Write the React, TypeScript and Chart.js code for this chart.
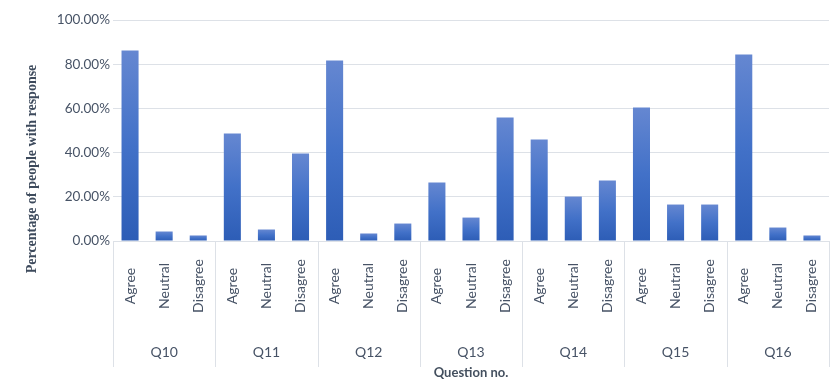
import React, { useEffect, useRef } from "react";
import { Chart, registerables } from "chart.js";

Chart.register(...registerables);

const questions = ["Q10", "Q11", "Q12", "Q13", "Q14", "Q15", "Q16"];
const responses = ["Agree", "Neutral", "Disagree"];
const agree = [86.2, 48.6, 81.7, 26.5, 45.9, 60.4, 84.4];
const neutral = [4.3, 5.2, 3.4, 10.6, 20.1, 16.5, 6.1];
const disagree = [2.5, 39.6, 7.9, 55.9, 27.4, 16.5, 2.5];
const yTicks = [0, 20, 40, 60, 80, 100];

const TEXT = "#475366";
const LINE = "#dde1e7";

export default function App() {
  const ref = useRef<HTMLCanvasElement | null>(null);

  useEffect(() => {
    document.body.style.margin = "0";
    const canvas = ref.current;
    if (!canvas) return;

    const labels: string[] = [];
    const values: number[] = [];
    questions.forEach((q, i) => {
      const set = [agree[i], neutral[i], disagree[i]];
      responses.forEach((r, j) => {
        labels.push(r);
        values.push(set[j]);
      });
    });

    const groupPlugin = {
      id: "groupLabels",
      afterDraw(chart: any) {
        const ctx = chart.ctx;
        const xs = chart.scales.x;
        const top = chart.chartArea.bottom;
        ctx.save();
        // separators
        ctx.strokeStyle = LINE;
        ctx.lineWidth = 1;
        const bounds: number[] = [xs.left];
        for (let g = 1; g < questions.length; g++) {
          const a = xs.getPixelForValue(g * 3 - 1);
          const b = xs.getPixelForValue(g * 3);
          bounds.push((a + b) / 2);
        }
        bounds.push(xs.right);
        bounds.forEach((bx) => {
          const px = Math.round(bx) + 0.5;
          ctx.beginPath();
          ctx.moveTo(px, top);
          ctx.lineTo(px, 367);
          ctx.stroke();
        });
        // rotated response labels
        ctx.fillStyle = TEXT;
        ctx.font = "14px Lato";
        ctx.textAlign = "center";
        ctx.textBaseline = "middle";
        labels.forEach((lab, i) => {
          const x = xs.getPixelForValue(i);
          ctx.save();
          ctx.translate(x, 286);
          ctx.rotate(-Math.PI / 2);
          ctx.fillText(lab, 0, 0);
          ctx.restore();
        });
        // group labels
        questions.forEach((q, g) => {
          const x = xs.getPixelForValue(g * 3 + 1);
          ctx.fillText(q, x, 352);
        });
        // y-axis title
        ctx.save();
        ctx.translate(32, 169);
        ctx.rotate(-Math.PI / 2);
        ctx.font = "bold 14px 'Liberation Serif'";
        ctx.fillStyle = "#3d4a5c";
        ctx.fillText("Percentage of people with response", 0, 0);
        ctx.restore();
        ctx.restore();
      },
    };

    const chart = new Chart(canvas, {
      type: "bar",
      data: {
        labels,
        datasets: [
          {
            data: values,
            barPercentage: 0.5,
            categoryPercentage: 1,
            backgroundColor: (c: any) => {
              const ch = c.chart;
              const ys = ch.scales?.y;
              if (!ys || c.raw == null || !ch.chartArea) return "#4472c4";
              const t = ys.getPixelForValue(c.raw);
              const b = ys.getPixelForValue(0);
              if (!isFinite(t) || !isFinite(b) || b - t < 1) return "#4a74c8";
              const g = ch.ctx.createLinearGradient(0, t, 0, b);
              g.addColorStop(0, "#6587d1");
              g.addColorStop(0.5, "#4271c8");
              g.addColorStop(1, "#2d5db6");
              return g;
            },
          },
        ],
      },
      options: {
        responsive: false,
        animation: false,
        layout: { padding: { top: 20, right: 8, left: 0, bottom: 0 } },
        plugins: {
          legend: { display: false },
          tooltip: { enabled: false },
        },
        scales: {
          x: {
            grid: { display: false, drawTicks: false },
            border: { display: true, color: LINE },
            ticks: { display: false },
            title: {
              display: true,
              text: "Question no.",
              color: "#44505f",
              font: { family: "Lato", size: 13, weight: "bold" },
              padding: { top: 0, bottom: 11 },
            },
            afterFit: (s: any) => {
              s.height = 151;
            },
          },
          y: {
            min: 0,
            max: 100,
            afterBuildTicks: (s: any) => {
              s.ticks = yTicks.map((v) => ({ value: v }));
            },
            grid: { color: LINE, drawTicks: false },
            border: { display: false },
            ticks: {
              padding: 3,
              color: TEXT,
              font: { family: "Lato", size: 13.5 },
              callback: (v: any) => Number(v).toFixed(2) + "%",
            },
            afterFit: (s: any) => {
              s.width = 113;
            },
          },
        },
      },
      plugins: [groupPlugin],
    });

    return () => chart.destroy();
  }, []);

  return (
    <div style={{ width: 837, height: 392 }}>
      <canvas ref={ref} width={837} height={392} style={{ display: "block" }} />
    </div>
  );
}
